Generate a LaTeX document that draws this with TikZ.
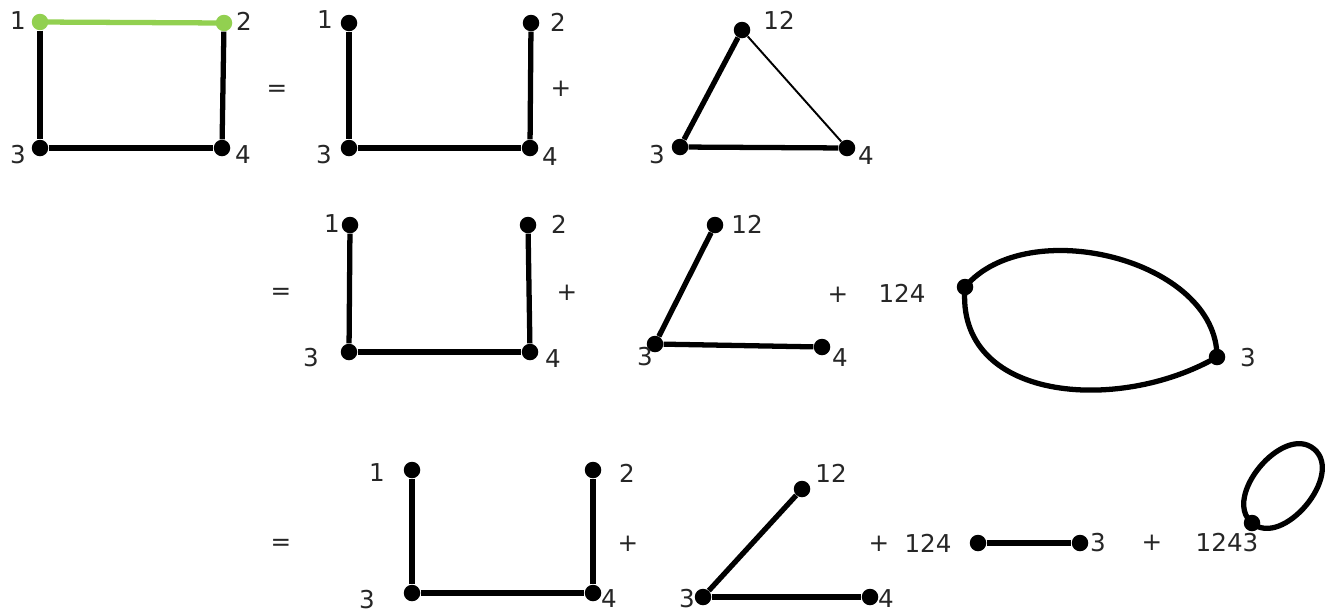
\documentclass[tikz,border=0pt]{standalone}
\usepackage{fontspec}
\setmainfont{DejaVu Sans}
\definecolor{litegreen}{RGB}{146,208,80}
\tikzstyle{vtx} = [circle, fill=black, inner sep=0pt, minimum size=0.33cm]
\tikzstyle{gvtx} = [vtx, fill=litegreen]
\tikzstyle{lbl} = [font=\fontsize{14}{16}\selectfont, text=black!85, inner sep=0pt]
\tikzstyle{bond} = [draw, line width=3pt]
\tikzstyle{gbond} = [bond, draw=litegreen]
\tikzstyle{thinbond} = [draw, line width=1.1pt]

\begin{document}
\begin{tikzpicture}[x=0.02cm, y=0.02cm]
\useasboundingbox (0,0) rectangle (1334,-613);

% ==========================================
% ROW 1: square = U + triangle
% ==========================================
\node[gvtx] (sq_1) at (40,-22) {};
\node[gvtx] (sq_2) at (224,-23) {};
\node[vtx]  (sq_3) at (40,-148) {};
\node[vtx]  (sq_4) at (222,-148) {};
\node[lbl] at (18,-21) {1};
\node[lbl] at (244,-21) {2};
\node[lbl] at (18,-155) {3};
\node[lbl] at (243,-155) {4};
\draw[gbond] (sq_1.center) -- (sq_2.center);
\foreach \a/\b in {sq_1/sq_3, sq_3/sq_4, sq_4/sq_2}
  { \draw[bond] (\a) -- (\b); }

\node[lbl] (eq_1) at (277,-91) {=};

\node[vtx] (ua_1) at (349,-23) {};
\node[vtx] (ua_2) at (531,-23) {};
\node[vtx] (ua_3) at (349,-148) {};
\node[vtx] (ua_4) at (530,-148) {};
\node[lbl] at (325,-20) {1};
\node[lbl] at (558,-22) {2};
\node[lbl] at (324,-155) {3};
\node[lbl] at (550,-157) {4};
\foreach \a/\b in {ua_1/ua_3, ua_3/ua_4, ua_4/ua_2}
  { \draw[bond] (\a) -- (\b); }

\node[lbl] (plus_1) at (561,-89) {+};

\node[vtx] (ta_12) at (742,-30) {};
\node[vtx] (ta_3)  at (680,-147) {};
\node[vtx] (ta_4)  at (847,-148) {};
\node[lbl] at (779,-20) {12};
\node[lbl] at (657,-155) {3};
\node[lbl] at (866,-156) {4};
\draw[bond] (ta_12) -- (ta_3);
\draw[bond] (ta_3) -- (ta_4);
\draw[thinbond] (ta_12) -- (ta_4);

% ==========================================
% ROW 2: = U + L + 124 -- 3 (double edge)
% ==========================================
\node[lbl] (eq_2) at (281,-294) {=};

\node[vtx] (ub_1) at (350,-225) {};
\node[vtx] (ub_2) at (528,-225) {};
\node[vtx] (ub_3) at (349,-352) {};
\node[vtx] (ub_4) at (530,-352) {};
\node[lbl] at (332,-224) {1};
\node[lbl] at (559,-224) {2};
\node[lbl] at (311,-358) {3};
\node[lbl] at (553,-359) {4};
\foreach \a/\b in {ub_1/ub_3, ub_3/ub_4, ub_4/ub_2}
  { \draw[bond] (\a) -- (\b); }

\node[lbl] (plus_2) at (567,-293) {+};

\node[vtx] (la_12) at (715,-225) {};
\node[vtx] (la_3)  at (655,-344) {};
\node[vtx] (la_4)  at (822,-347) {};
\node[lbl] at (747,-224) {12};
\node[lbl] at (645,-357) {3};
\node[lbl] at (840,-358) {4};
\draw[bond] (la_12) -- (la_3);
\draw[bond] (la_3) -- (la_4);

\node[lbl] (plus_3) at (838,-295) {+};
\node[lbl] at (902,-293) {124};

\node[vtx] (ea_124) at (965,-287) {};
\node[vtx] (ea_3)   at (1217,-357) {};
\node[lbl] at (1248,-358) {3};
\draw[bond] (ea_124.center) to[out=50, in=90, looseness=0.95] (ea_3.center);
\draw[bond] (ea_124.center) to[out=-95, in=-150, looseness=1.12] (ea_3.center);

% ==========================================
% ROW 3: = U + L + 124 -- 3 + 1243 (loop)
% ==========================================
\node[lbl] (eq_3) at (281,-545) {=};

\node[vtx] (uc_1) at (412,-470) {};
\node[vtx] (uc_2) at (593,-470) {};
\node[vtx] (uc_3) at (412,-593) {};
\node[vtx] (uc_4) at (593,-593) {};
\node[lbl] at (377,-473) {1};
\node[lbl] at (627,-473) {2};
\node[lbl] at (367,-600) {3};
\node[lbl] at (609,-599) {4};
\foreach \a/\b in {uc_1/uc_3, uc_3/uc_4, uc_4/uc_2}
  { \draw[bond] (\a) -- (\b); }

\node[lbl] (plus_4) at (628,-544) {+};

\node[vtx] (lb_12) at (802,-489) {};
\node[vtx] (lb_3)  at (703,-597) {};
\node[vtx] (lb_4)  at (870,-597) {};
\node[lbl] at (831,-473) {12};
\node[lbl] at (687,-599) {3};
\node[lbl] at (886,-599) {4};
\draw[bond] (lb_12) -- (lb_3);
\draw[bond] (lb_3) -- (lb_4);

\node[lbl] (plus_5) at (879,-544) {+};
\node[lbl] at (928,-543) {124};

\node[vtx] (sb_124) at (978,-543) {};
\node[vtx] (sb_3)   at (1080,-543) {};
\node[lbl] at (1098,-543) {3};
\draw[bond] (sb_124) -- (sb_3);

\node[lbl] (plus_6) at (1152,-543) {+};
\node[lbl] at (1227,-543) {1243};

\node[vtx] (lp_1243) at (1252,-523) {};
\coordinate (lp_top) at (1314,-449);
\draw[bond] (lp_1243.center) to[out=140, in=140, looseness=1.06] (lp_top)
  to[out=-40, in=-40, looseness=1.06] (lp_1243.center);

\end{tikzpicture}
\end{document}
